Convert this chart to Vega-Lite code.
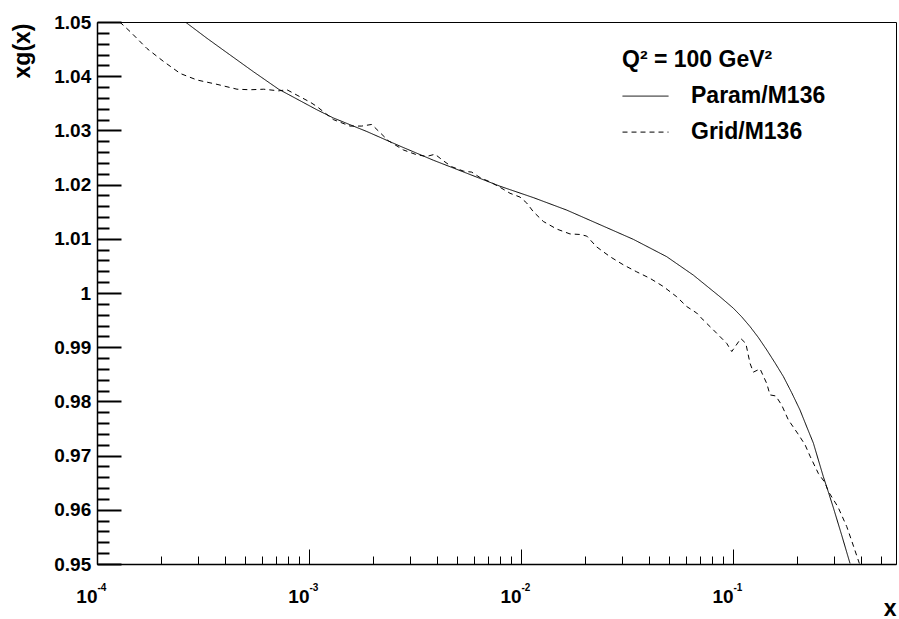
{
  "$schema": "https://vega.github.io/schema/vega-lite/v6.json",
  "width": 799,
  "height": 542,
  "autosize": {"type": "none"},
  "padding": {"left": 97, "top": 22, "right": 3, "bottom": 55},
  "background": "white",
  "config": {
    "view": {"stroke": "black", "strokeWidth": 1},
    "font": "Liberation Sans",
    "axis": {
      "labelFont": "Liberation Sans", "labelFontWeight": "bold", "labelColor": "black",
      "domainColor": "black", "grid": false,
      "titleFont": "Liberation Sans", "titleFontWeight": "bold", "titleColor": "black",
      "labelFlush": false, "labelBound": false, "labelOverlap": false
    }
  },
  "datasets": {
    "curves": [
      {"series": "Param/M136", "x": 0.000261, "y": 1.05},
      {"series": "Param/M136", "x": 0.00033, "y": 1.047},
      {"series": "Param/M136", "x": 0.000425, "y": 1.0439},
      {"series": "Param/M136", "x": 0.000548, "y": 1.0408},
      {"series": "Param/M136", "x": 0.000719, "y": 1.0376},
      {"series": "Param/M136", "x": 0.00109, "y": 1.0338},
      {"series": "Param/M136", "x": 0.001302, "y": 1.0323},
      {"series": "Param/M136", "x": 0.001872, "y": 1.0298},
      {"series": "Param/M136", "x": 0.002687, "y": 1.0271},
      {"series": "Param/M136", "x": 0.003858, "y": 1.0245},
      {"series": "Param/M136", "x": 0.005546, "y": 1.0221},
      {"series": "Param/M136", "x": 0.00796, "y": 1.0197},
      {"series": "Param/M136", "x": 0.01143, "y": 1.0176},
      {"series": "Param/M136", "x": 0.01642, "y": 1.0153},
      {"series": "Param/M136", "x": 0.02359, "y": 1.0126},
      {"series": "Param/M136", "x": 0.03386, "y": 1.0099},
      {"series": "Param/M136", "x": 0.04866, "y": 1.0067},
      {"series": "Param/M136", "x": 0.06497, "y": 1.0033},
      {"series": "Param/M136", "x": 0.08683, "y": 0.9993},
      {"series": "Param/M136", "x": 0.1003, "y": 0.9972},
      {"series": "Param/M136", "x": 0.1099, "y": 0.9956},
      {"series": "Param/M136", "x": 0.1203, "y": 0.9938},
      {"series": "Param/M136", "x": 0.1316, "y": 0.9918},
      {"series": "Param/M136", "x": 0.1442, "y": 0.9895},
      {"series": "Param/M136", "x": 0.1578, "y": 0.9871},
      {"series": "Param/M136", "x": 0.1727, "y": 0.9846},
      {"series": "Param/M136", "x": 0.1891, "y": 0.9816},
      {"series": "Param/M136", "x": 0.207, "y": 0.9784},
      {"series": "Param/M136", "x": 0.2227, "y": 0.9753},
      {"series": "Param/M136", "x": 0.2393, "y": 0.9723},
      {"series": "Param/M136", "x": 0.2526, "y": 0.9692},
      {"series": "Param/M136", "x": 0.2667, "y": 0.9661},
      {"series": "Param/M136", "x": 0.2815, "y": 0.9633},
      {"series": "Param/M136", "x": 0.2972, "y": 0.9604},
      {"series": "Param/M136", "x": 0.3256, "y": 0.9553},
      {"series": "Param/M136", "x": 0.3563, "y": 0.9501},
      {"series": "Grid/M136", "x": 0.000128, "y": 1.05},
      {"series": "Grid/M136", "x": 0.0001436, "y": 1.0482},
      {"series": "Grid/M136", "x": 0.0001721, "y": 1.0451},
      {"series": "Grid/M136", "x": 0.0002063, "y": 1.0427},
      {"series": "Grid/M136", "x": 0.0002471, "y": 1.0405},
      {"series": "Grid/M136", "x": 0.0002962, "y": 1.0393},
      {"series": "Grid/M136", "x": 0.0003681, "y": 1.0385},
      {"series": "Grid/M136", "x": 0.0004574, "y": 1.0376},
      {"series": "Grid/M136", "x": 0.0005285, "y": 1.0375},
      {"series": "Grid/M136", "x": 0.0006113, "y": 1.0376},
      {"series": "Grid/M136", "x": 0.000719, "y": 1.0373},
      {"series": "Grid/M136", "x": 0.000787, "y": 1.0375},
      {"series": "Grid/M136", "x": 0.000878, "y": 1.0365},
      {"series": "Grid/M136", "x": 0.001014, "y": 1.0352},
      {"series": "Grid/M136", "x": 0.00109, "y": 1.0344},
      {"series": "Grid/M136", "x": 0.001302, "y": 1.032},
      {"series": "Grid/M136", "x": 0.001561, "y": 1.0308},
      {"series": "Grid/M136", "x": 0.001773, "y": 1.0308},
      {"series": "Grid/M136", "x": 0.001976, "y": 1.0311},
      {"series": "Grid/M136", "x": 0.002162, "y": 1.0296},
      {"series": "Grid/M136", "x": 0.002366, "y": 1.0281},
      {"series": "Grid/M136", "x": 0.002785, "y": 1.0264},
      {"series": "Grid/M136", "x": 0.003221, "y": 1.0255},
      {"series": "Grid/M136", "x": 0.003591, "y": 1.0252},
      {"series": "Grid/M136", "x": 0.003929, "y": 1.0256},
      {"series": "Grid/M136", "x": 0.0043, "y": 1.0244},
      {"series": "Grid/M136", "x": 0.00471, "y": 1.0233},
      {"series": "Grid/M136", "x": 0.005343, "y": 1.0225},
      {"series": "Grid/M136", "x": 0.005855, "y": 1.0223},
      {"series": "Grid/M136", "x": 0.006406, "y": 1.0213},
      {"series": "Grid/M136", "x": 0.007142, "y": 1.0205},
      {"series": "Grid/M136", "x": 0.00796, "y": 1.0195},
      {"series": "Grid/M136", "x": 0.008874, "y": 1.0184},
      {"series": "Grid/M136", "x": 0.00989, "y": 1.0177},
      {"series": "Grid/M136", "x": 0.01064, "y": 1.0166},
      {"series": "Grid/M136", "x": 0.01143, "y": 1.015},
      {"series": "Grid/M136", "x": 0.01274, "y": 1.0132},
      {"series": "Grid/M136", "x": 0.01474, "y": 1.0118},
      {"series": "Grid/M136", "x": 0.01702, "y": 1.0109},
      {"series": "Grid/M136", "x": 0.01898, "y": 1.0108},
      {"series": "Grid/M136", "x": 0.02042, "y": 1.0105},
      {"series": "Grid/M136", "x": 0.02275, "y": 1.0085},
      {"series": "Grid/M136", "x": 0.0263, "y": 1.0067},
      {"series": "Grid/M136", "x": 0.03038, "y": 1.0052},
      {"series": "Grid/M136", "x": 0.03514, "y": 1.0039},
      {"series": "Grid/M136", "x": 0.04061, "y": 1.0027},
      {"series": "Grid/M136", "x": 0.0469, "y": 1.0012},
      {"series": "Grid/M136", "x": 0.05426, "y": 0.9993},
      {"series": "Grid/M136", "x": 0.06048, "y": 0.9975},
      {"series": "Grid/M136", "x": 0.06742, "y": 0.9963},
      {"series": "Grid/M136", "x": 0.07244, "y": 0.995},
      {"series": "Grid/M136", "x": 0.08074, "y": 0.9932},
      {"series": "Grid/M136", "x": 0.09339, "y": 0.9907},
      {"series": "Grid/M136", "x": 0.09861, "y": 0.9892},
      {"series": "Grid/M136", "x": 0.1088, "y": 0.9916},
      {"series": "Grid/M136", "x": 0.1149, "y": 0.9907},
      {"series": "Grid/M136", "x": 0.1203, "y": 0.987},
      {"series": "Grid/M136", "x": 0.1247, "y": 0.9854},
      {"series": "Grid/M136", "x": 0.1341, "y": 0.986},
      {"series": "Grid/M136", "x": 0.1442, "y": 0.9833},
      {"series": "Grid/M136", "x": 0.1494, "y": 0.9812},
      {"series": "Grid/M136", "x": 0.1591, "y": 0.981},
      {"series": "Grid/M136", "x": 0.1697, "y": 0.9793},
      {"series": "Grid/M136", "x": 0.1823, "y": 0.9766},
      {"series": "Grid/M136", "x": 0.2025, "y": 0.974},
      {"series": "Grid/M136", "x": 0.2186, "y": 0.972},
      {"series": "Grid/M136", "x": 0.2308, "y": 0.9699},
      {"series": "Grid/M136", "x": 0.2526, "y": 0.9667},
      {"series": "Grid/M136", "x": 0.2716, "y": 0.965},
      {"series": "Grid/M136", "x": 0.2815, "y": 0.9634},
      {"series": "Grid/M136", "x": 0.3128, "y": 0.9605},
      {"series": "Grid/M136", "x": 0.3438, "y": 0.9569},
      {"series": "Grid/M136", "x": 0.3641, "y": 0.9541},
      {"series": "Grid/M136", "x": 0.3943, "y": 0.9501}
    ]
  },
  "data": {"name": "curves"},
  "layer": [
    {
      "transform": [{"filter": "datum.series === 'Param/M136'"}],
      "mark": {"type": "line", "color": "black", "strokeWidth": 1, "clip": true},
      "encoding": {
        "x": {
          "field": "x", "type": "quantitative",
          "scale": {"type": "log", "domain": [0.0001, 0.587], "nice": false},
          "axis": {
            "orient": "bottom", "values": [0.0001, 0.001, 0.01, 0.1],
            "ticks": true, "tickSize": -15, "tickColor": "black", "tickWidth": 1,
            "labelExpr": "'10'", "labelAlign": "right", "labelDx": 2,
            "labelBaseline": "alphabetic", "labelPadding": 53, "labelFontSize": 19,
            "domainWidth": 1.5,
            "title": "x", "titleFontSize": 23, "titleX": 799, "titleY": 51,
            "titleAlign": "right", "titleBaseline": "alphabetic", "titleAnchor": "end"
          }
        },
        "y": {
          "field": "y", "type": "quantitative",
          "scale": {"domain": [0.95, 1.05], "nice": false, "zero": false},
          "axis": {
            "orient": "left",
            "values": [0.95, 0.96, 0.97, 0.98, 0.99, 1.0, 1.01, 1.02, 1.03, 1.04, 1.05],
            "ticks": true, "tickSize": -24, "tickColor": "black", "tickWidth": 2,
            "labelExpr": "format(datum.value, '.2~f')",
            "labelPadding": 30.3, "labelFontSize": 19, "domainWidth": 1.5,
            "title": "xg(x)", "titleFontSize": 23, "titleAngle": -90,
            "titleX": -67.5, "titleY": 1, "titleAlign": "right", "titleBaseline": "alphabetic"
          }
        },
        "strokeDash": {
          "field": "series", "type": "nominal", "title": "Q² = 100 GeV²",
          "scale": {"domain": ["Param/M136", "Grid/M136"], "range": [[1, 0], [5, 4]]},
          "legend": {
            "orient": "none", "legendX": 525, "legendY": 26.6, "padding": 0,
            "titleFont": "Liberation Sans", "titleFontSize": 23, "titleFontWeight": "bold",
            "titleColor": "black", "titlePadding": 1, "titleLimit": 400,
            "labelFont": "Liberation Sans", "labelFontSize": 23, "labelFontWeight": "bold",
            "labelColor": "black", "labelOffset": 22, "labelLimit": 400,
            "symbolType": "stroke", "symbolSize": 2116, "symbolStrokeWidth": 1,
            "symbolStrokeColor": "black", "rowPadding": 0
          }
        }
      }
    },
    {
      "transform": [{"filter": "datum.series === 'Grid/M136'"}],
      "mark": {"type": "line", "color": "black", "strokeWidth": 1, "clip": true},
      "encoding": {
        "x": {
          "field": "x", "type": "quantitative",
          "axis": {
            "orient": "bottom",
            "values": [0.0001, 0.0002, 0.0003, 0.0004, 0.0005, 0.0006, 0.0007, 0.0008, 0.0009,
                       0.001, 0.002, 0.003, 0.004, 0.005, 0.006, 0.007, 0.008, 0.009,
                       0.01, 0.02, 0.03, 0.04, 0.05, 0.06, 0.07, 0.08, 0.09,
                       0.1, 0.2, 0.3, 0.4, 0.5],
            "ticks": true, "tickSize": -8, "tickColor": "black", "tickWidth": 1,
            "labelExpr": "abs(log(datum.value)/LN10 - round(log(datum.value)/LN10)) < 0.001 ? '-' + format(-round(log(datum.value)/LN10), 'd') : ''",
            "labelAlign": "left", "labelDx": 2, "labelBaseline": "alphabetic",
            "labelPadding": 34, "labelFontSize": 10, "domain": false, "title": null
          }
        },
        "y": {
          "field": "y", "type": "quantitative",
          "axis": {
            "orient": "left",
            "values": [0.952, 0.954, 0.956, 0.958, 0.962, 0.964, 0.966, 0.968,
                       0.972, 0.974, 0.976, 0.978, 0.982, 0.984, 0.986, 0.988,
                       0.992, 0.994, 0.996, 0.998, 1.002, 1.004, 1.006, 1.008,
                       1.012, 1.014, 1.016, 1.018, 1.022, 1.024, 1.026, 1.028,
                       1.032, 1.034, 1.036, 1.038, 1.042, 1.044, 1.046, 1.048],
            "ticks": true, "tickSize": -12, "tickColor": "black", "tickWidth": 2,
            "labels": false, "domain": false, "title": null
          }
        },
        "strokeDash": {
          "field": "series", "type": "nominal", "title": "Q² = 100 GeV²",
          "legend": {
            "orient": "none", "legendX": 525, "legendY": 26.6, "padding": 0,
            "titleFont": "Liberation Sans", "titleFontSize": 23, "titleFontWeight": "bold",
            "titleColor": "black", "titlePadding": 1, "titleLimit": 400,
            "labelFont": "Liberation Sans", "labelFontSize": 23, "labelFontWeight": "bold",
            "labelColor": "black", "labelOffset": 22, "labelLimit": 400,
            "symbolType": "stroke", "symbolSize": 2116, "symbolStrokeWidth": 1,
            "symbolStrokeColor": "black", "rowPadding": 0
          }
        }
      }
    }
  ],
  "resolve": {"axis": {"x": "independent", "y": "independent"}}
}
